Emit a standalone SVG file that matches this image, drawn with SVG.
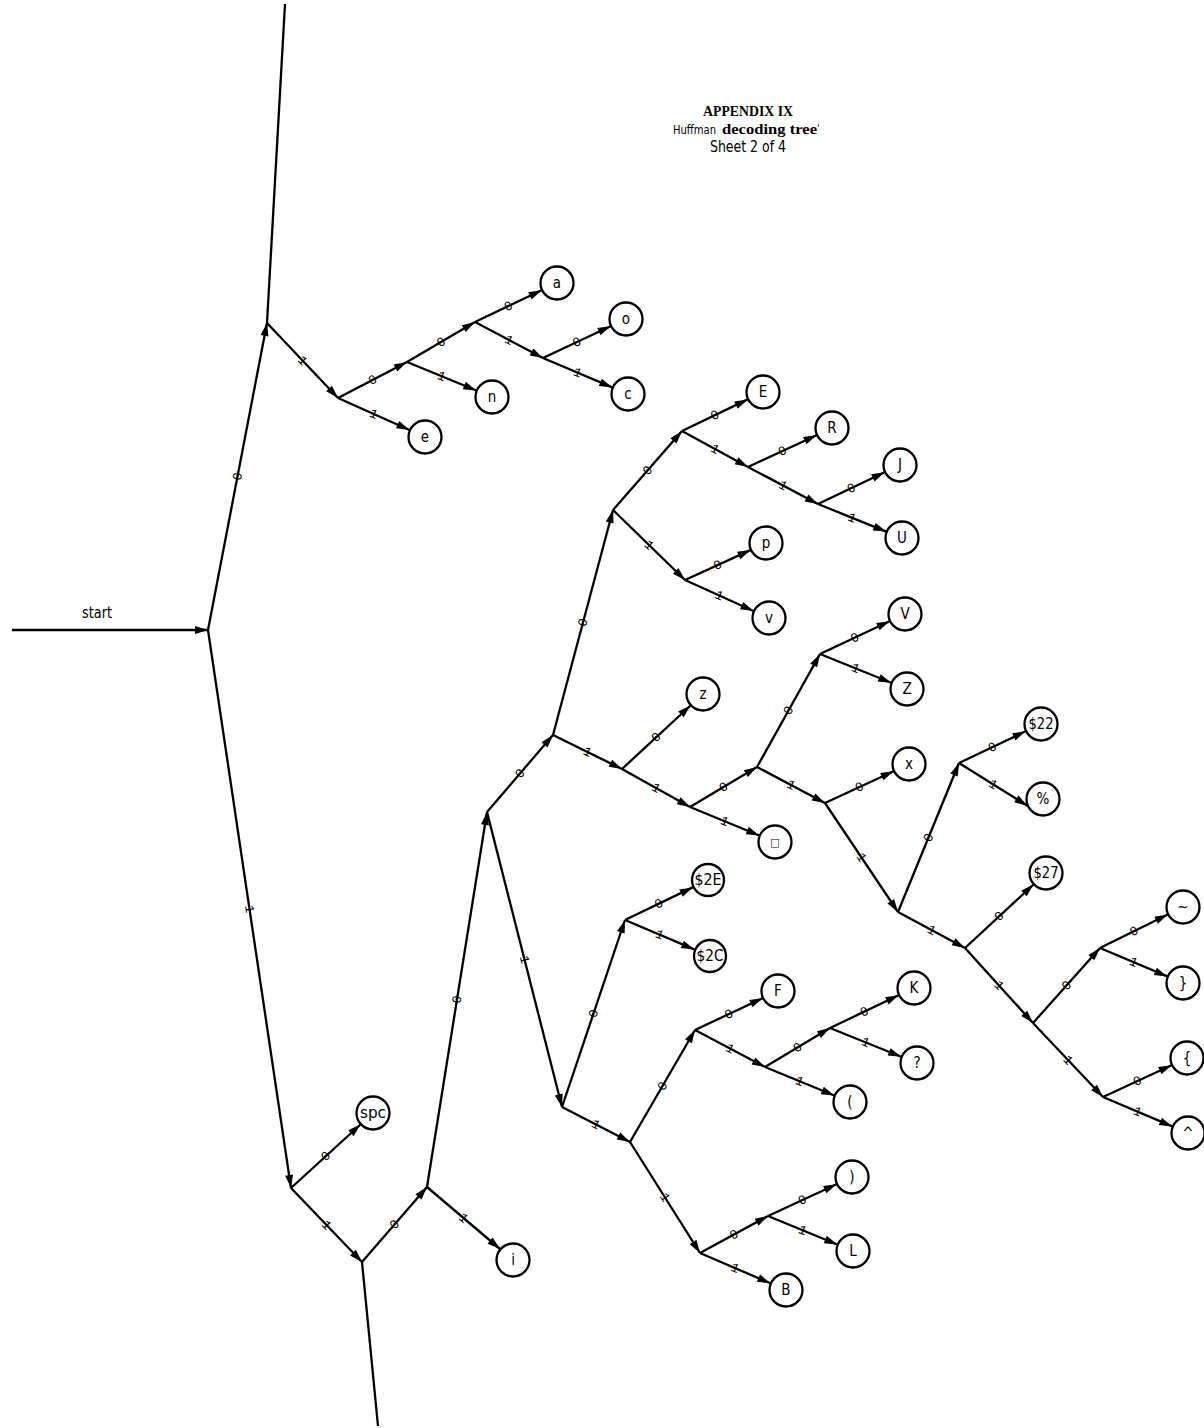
<svg xmlns="http://www.w3.org/2000/svg" xmlns:xlink="http://www.w3.org/1999/xlink" width="1204" height="1428" viewBox="0 0 1204 1428">
<style>
.e{fill:none;stroke:#000;stroke-width:2.3;marker-end:url(#ah)}
.p{fill:none;stroke:#000;stroke-width:2.3}
.n circle{fill:#fff;stroke:#000;stroke-width:2.3}
.n text{font-family:"DejaVu Sans Condensed","Liberation Sans Narrow","Liberation Sans",sans-serif;font-size:15px;text-anchor:middle;dominant-baseline:central;fill:#000}
.l{font-family:"Liberation Mono",monospace;font-size:13px;text-anchor:middle;dominant-baseline:central;fill:#000}
.t{font-family:"DejaVu Sans Condensed","Liberation Sans Narrow","Liberation Sans",sans-serif;fill:#000}
.tb{font-family:"Liberation Serif",serif;font-weight:bold;fill:#000}
</style>
<defs>
<marker id="ah" markerUnits="userSpaceOnUse" viewBox="-14 -5 15 10" refX="0" refY="0" markerWidth="15" markerHeight="10" orient="auto">
<path d="M-13,-4 L0,0 L-13,4 z" fill="#000"/>
</marker>
</defs>
<g id="title">
<text class="tb" x="748" y="116" text-anchor="middle" font-size="14" textLength="90" lengthAdjust="spacingAndGlyphs">APPENDIX  IX</text>
<text x="673" y="134"><tspan class="t" font-size="12.5" textLength="43" lengthAdjust="spacingAndGlyphs">Huffman</tspan><tspan class="tb" font-size="14" dx="6" textLength="95" lengthAdjust="spacingAndGlyphs">decoding tree</tspan><tspan class="t" font-size="10" dy="-2">'</tspan></text>
<text class="t" x="748" y="152" text-anchor="middle" font-size="15" textLength="76" lengthAdjust="spacingAndGlyphs">Sheet 2 of 4</text>
</g>
<g id="connectors">
<path class="p" d="M285 4 L267 323"/>
<path class="p" d="M362 1262 L378 1426"/>
<path id="start" class="e" d="M12 630 L208 630"/>
<path id="e01" class="e" d="M208 630 L267 323"/>
<path id="e02" class="e" d="M208 630 L291 1188"/>
<path id="e03" class="e" d="M267 323 L338 398"/>
<path id="e04" class="e" d="M338 398 L407 362"/>
<path id="e05" class="e" d="M407 362 L475 322"/>
<path id="e06" class="e" d="M475 322 L543 358"/>
<path id="e07" class="e" d="M291 1188 L362 1262"/>
<path id="e08" class="e" d="M362 1262 L427 1187"/>
<path id="e09" class="e" d="M427 1187 L487 812"/>
<path id="e10" class="e" d="M487 812 L553 735"/>
<path id="e11" class="e" d="M487 812 L562 1107"/>
<path id="e12" class="e" d="M553 735 L613 510"/>
<path id="e13" class="e" d="M553 735 L622 769"/>
<path id="e14" class="e" d="M613 510 L682 431"/>
<path id="e15" class="e" d="M613 510 L685 580"/>
<path id="e16" class="e" d="M682 431 L748 467"/>
<path id="e17" class="e" d="M748 467 L818 504"/>
<path id="e18" class="e" d="M622 769 L690 807"/>
<path id="e19" class="e" d="M690 807 L757 767"/>
<path id="e20" class="e" d="M757 767 L820 654"/>
<path id="e21" class="e" d="M757 767 L825 803"/>
<path id="e22" class="e" d="M825 803 L898 912"/>
<path id="e23" class="e" d="M898 912 L959 763"/>
<path id="e24" class="e" d="M898 912 L965 948"/>
<path id="e25" class="e" d="M965 948 L1033 1023"/>
<path id="e26" class="e" d="M1033 1023 L1100 948"/>
<path id="e27" class="e" d="M1033 1023 L1103 1097"/>
<path id="e28" class="e" d="M562 1107 L625 920"/>
<path id="e29" class="e" d="M562 1107 L630 1142"/>
<path id="e30" class="e" d="M630 1142 L695 1030"/>
<path id="e31" class="e" d="M630 1142 L700 1253"/>
<path id="e32" class="e" d="M695 1030 L765 1067"/>
<path id="e33" class="e" d="M765 1067 L830 1028"/>
<path id="e34" class="e" d="M700 1253 L768 1216"/>
<path id="f01" class="e" d="M475 322 L541.6 290.3"/>
<path id="f02" class="e" d="M543 358 L610.6 326.2"/>
<path id="f03" class="e" d="M543 358 L612.3 387.4"/>
<path id="f04" class="e" d="M407 362 L476.3 390.5"/>
<path id="f05" class="e" d="M338 398 L409.5 430"/>
<path id="f06" class="e" d="M682 431 L747.7 399.4"/>
<path id="f07" class="e" d="M748 467 L816.6 435.2"/>
<path id="f08" class="e" d="M818 504 L884.6 472.3"/>
<path id="f09" class="e" d="M818 504 L886.2 531.6"/>
<path id="f10" class="e" d="M685 580 L750.5 550.1"/>
<path id="f11" class="e" d="M685 580 L753.5 611"/>
<path id="f12" class="e" d="M622 769 L690.5 705.5"/>
<path id="f13" class="e" d="M690 807 L759.3 835.5"/>
<path id="f14" class="e" d="M820 654 L889.6 621.2"/>
<path id="f15" class="e" d="M820 654 L891.2 682.7"/>
<path id="f16" class="e" d="M825 803 L893.6 771.2"/>
<path id="f17" class="e" d="M959 763 L1025.6 731.3"/>
<path id="f18" class="e" d="M959 763 L1027.4 805.7"/>
<path id="f19" class="e" d="M965 948 L1033.5 884.5"/>
<path id="f20" class="e" d="M1100 948 L1167.8 914.5"/>
<path id="f21" class="e" d="M1100 948 L1167.3 976.4"/>
<path id="f22" class="e" d="M1103 1097 L1171.6 1065.2"/>
<path id="f23" class="e" d="M1103 1097 L1172.3 1126.4"/>
<path id="f24" class="e" d="M625 920 L692.7 887.4"/>
<path id="f25" class="e" d="M625 920 L694.3 949.4"/>
<path id="f26" class="e" d="M695 1030 L762.6 998.2"/>
<path id="f27" class="e" d="M830 1028 L898.6 995.3"/>
<path id="f28" class="e" d="M830 1028 L901.2 1056.7"/>
<path id="f29" class="e" d="M765 1067 L834.3 1095.5"/>
<path id="f30" class="e" d="M768 1216 L836.6 1184.2"/>
<path id="f31" class="e" d="M768 1216 L837.3 1244.5"/>
<path id="f32" class="e" d="M700 1253 L770.4 1283.3"/>
<path id="f33" class="e" d="M427 1187 L500 1249"/>
<path id="f34" class="e" d="M291 1188 L360.5 1124.5"/>
<text class="t" x="97" y="618" text-anchor="middle" font-size="15" textLength="30" lengthAdjust="spacingAndGlyphs">start</text>
<text class="l"><textPath href="#e01" startOffset="50%">0</textPath></text>
<text class="l"><textPath href="#e02" startOffset="50%">1</textPath></text>
<text class="l"><textPath href="#e03" startOffset="50%">1</textPath></text>
<text class="l"><textPath href="#e04" startOffset="50%">0</textPath></text>
<text class="l"><textPath href="#e05" startOffset="50%">0</textPath></text>
<text class="l"><textPath href="#e06" startOffset="50%">1</textPath></text>
<text class="l"><textPath href="#e07" startOffset="50%">1</textPath></text>
<text class="l"><textPath href="#e08" startOffset="50%">0</textPath></text>
<text class="l"><textPath href="#e09" startOffset="50%">0</textPath></text>
<text class="l"><textPath href="#e10" startOffset="50%">0</textPath></text>
<text class="l"><textPath href="#e11" startOffset="50%">1</textPath></text>
<text class="l"><textPath href="#e12" startOffset="50%">0</textPath></text>
<text class="l"><textPath href="#e13" startOffset="50%">1</textPath></text>
<text class="l"><textPath href="#e14" startOffset="50%">0</textPath></text>
<text class="l"><textPath href="#e15" startOffset="50%">1</textPath></text>
<text class="l"><textPath href="#e16" startOffset="50%">1</textPath></text>
<text class="l"><textPath href="#e17" startOffset="50%">1</textPath></text>
<text class="l"><textPath href="#e18" startOffset="50%">1</textPath></text>
<text class="l"><textPath href="#e19" startOffset="50%">0</textPath></text>
<text class="l"><textPath href="#e20" startOffset="50%">0</textPath></text>
<text class="l"><textPath href="#e21" startOffset="50%">1</textPath></text>
<text class="l"><textPath href="#e22" startOffset="50%">1</textPath></text>
<text class="l"><textPath href="#e23" startOffset="50%">0</textPath></text>
<text class="l"><textPath href="#e24" startOffset="50%">1</textPath></text>
<text class="l"><textPath href="#e25" startOffset="50%">1</textPath></text>
<text class="l"><textPath href="#e26" startOffset="50%">0</textPath></text>
<text class="l"><textPath href="#e27" startOffset="50%">1</textPath></text>
<text class="l"><textPath href="#e28" startOffset="50%">0</textPath></text>
<text class="l"><textPath href="#e29" startOffset="50%">1</textPath></text>
<text class="l"><textPath href="#e30" startOffset="50%">0</textPath></text>
<text class="l"><textPath href="#e31" startOffset="50%">1</textPath></text>
<text class="l"><textPath href="#e32" startOffset="50%">1</textPath></text>
<text class="l"><textPath href="#e33" startOffset="50%">0</textPath></text>
<text class="l"><textPath href="#e34" startOffset="50%">0</textPath></text>
<text class="l"><textPath href="#f01" startOffset="50%">0</textPath></text>
<text class="l"><textPath href="#f02" startOffset="50%">0</textPath></text>
<text class="l"><textPath href="#f03" startOffset="50%">1</textPath></text>
<text class="l"><textPath href="#f04" startOffset="50%">1</textPath></text>
<text class="l"><textPath href="#f05" startOffset="50%">1</textPath></text>
<text class="l"><textPath href="#f06" startOffset="50%">0</textPath></text>
<text class="l"><textPath href="#f07" startOffset="50%">0</textPath></text>
<text class="l"><textPath href="#f08" startOffset="50%">0</textPath></text>
<text class="l"><textPath href="#f09" startOffset="50%">1</textPath></text>
<text class="l"><textPath href="#f10" startOffset="50%">0</textPath></text>
<text class="l"><textPath href="#f11" startOffset="50%">1</textPath></text>
<text class="l"><textPath href="#f12" startOffset="50%">0</textPath></text>
<text class="l"><textPath href="#f13" startOffset="50%">1</textPath></text>
<text class="l"><textPath href="#f14" startOffset="50%">0</textPath></text>
<text class="l"><textPath href="#f15" startOffset="50%">1</textPath></text>
<text class="l"><textPath href="#f16" startOffset="50%">0</textPath></text>
<text class="l"><textPath href="#f17" startOffset="50%">0</textPath></text>
<text class="l"><textPath href="#f18" startOffset="50%">1</textPath></text>
<text class="l"><textPath href="#f19" startOffset="50%">0</textPath></text>
<text class="l"><textPath href="#f20" startOffset="50%">0</textPath></text>
<text class="l"><textPath href="#f21" startOffset="50%">1</textPath></text>
<text class="l"><textPath href="#f22" startOffset="50%">0</textPath></text>
<text class="l"><textPath href="#f23" startOffset="50%">1</textPath></text>
<text class="l"><textPath href="#f24" startOffset="50%">0</textPath></text>
<text class="l"><textPath href="#f25" startOffset="50%">1</textPath></text>
<text class="l"><textPath href="#f26" startOffset="50%">0</textPath></text>
<text class="l"><textPath href="#f27" startOffset="50%">0</textPath></text>
<text class="l"><textPath href="#f28" startOffset="50%">1</textPath></text>
<text class="l"><textPath href="#f29" startOffset="50%">1</textPath></text>
<text class="l"><textPath href="#f30" startOffset="50%">0</textPath></text>
<text class="l"><textPath href="#f31" startOffset="50%">1</textPath></text>
<text class="l"><textPath href="#f32" startOffset="50%">1</textPath></text>
<text class="l"><textPath href="#f33" startOffset="50%">1</textPath></text>
<text class="l"><textPath href="#f34" startOffset="50%">0</textPath></text>
</g>
<g id="node-a" class="n"><circle cx="557" cy="283" r="16.5"/><text x="557" y="283">a</text></g>
<g id="node-o" class="n"><circle cx="626" cy="319" r="16.5"/><text x="626" y="319">o</text></g>
<g id="node-c" class="n"><circle cx="628" cy="394" r="16.5"/><text x="628" y="394">c</text></g>
<g id="node-n" class="n"><circle cx="492" cy="397" r="16.5"/><text x="492" y="397">n</text></g>
<g id="node-e" class="n"><circle cx="425" cy="437" r="16.5"/><text x="425" y="437">e</text></g>
<g id="node-E" class="n"><circle cx="763" cy="392" r="16.5"/><text x="763" y="392">E</text></g>
<g id="node-R" class="n"><circle cx="832" cy="428" r="16.5"/><text x="832" y="428">R</text></g>
<g id="node-J" class="n"><circle cx="900" cy="465" r="16.5"/><text x="900" y="465">J</text></g>
<g id="node-U" class="n"><circle cx="902" cy="538" r="16.5"/><text x="902" y="538">U</text></g>
<g id="node-p" class="n"><circle cx="766" cy="543" r="16.5"/><text x="766" y="543">p</text></g>
<g id="node-v" class="n"><circle cx="769" cy="618" r="16.5"/><text x="769" y="618">v</text></g>
<g id="node-z" class="n"><circle cx="703" cy="694" r="16.5"/><text x="703" y="694">z</text></g>
<g id="node-sq" class="n"><circle cx="775" cy="842" r="16.5"/><text x="775" y="842" style="font-size:11px">□</text></g>
<g id="node-V" class="n"><circle cx="905" cy="614" r="16.5"/><text x="905" y="614">V</text></g>
<g id="node-Z" class="n"><circle cx="907" cy="689" r="16.5"/><text x="907" y="689">Z</text></g>
<g id="node-x" class="n"><circle cx="909" cy="764" r="16.5"/><text x="909" y="764">x</text></g>
<g id="node-22" class="n"><circle cx="1041" cy="724" r="16.5"/><text x="1041" y="724" textLength="25" lengthAdjust="spacingAndGlyphs">$22</text></g>
<g id="node-pct" class="n"><circle cx="1043" cy="799" r="16.5"/><text x="1043" y="799">%</text></g>
<g id="node-27" class="n"><circle cx="1046" cy="873" r="16.5"/><text x="1046" y="873" textLength="25" lengthAdjust="spacingAndGlyphs">$27</text></g>
<g id="node-tilde" class="n"><circle cx="1183" cy="907" r="16.5"/><text x="1183" y="907">~</text></g>
<g id="node-rbrace" class="n"><circle cx="1183" cy="983" r="16.5"/><text x="1183" y="983">}</text></g>
<g id="node-lbrace" class="n"><circle cx="1187" cy="1058" r="16.5"/><text x="1187" y="1058">{</text></g>
<g id="node-caret" class="n"><circle cx="1188" cy="1133" r="16.5"/><text x="1188" y="1133">^</text></g>
<g id="node-2E" class="n"><circle cx="708" cy="880" r="16"/><text x="708" y="880" textLength="27" lengthAdjust="spacingAndGlyphs">$2E</text></g>
<g id="node-2C" class="n"><circle cx="710" cy="956" r="16"/><text x="710" y="956" textLength="27" lengthAdjust="spacingAndGlyphs">$2C</text></g>
<g id="node-F" class="n"><circle cx="778" cy="991" r="16.5"/><text x="778" y="991">F</text></g>
<g id="node-K" class="n"><circle cx="914" cy="988" r="16.5"/><text x="914" y="988">K</text></g>
<g id="node-q" class="n"><circle cx="917" cy="1063" r="16.5"/><text x="917" y="1063">?</text></g>
<g id="node-lpar" class="n"><circle cx="850" cy="1102" r="16.5"/><text x="850" y="1102">(</text></g>
<g id="node-rpar" class="n"><circle cx="852" cy="1177" r="16.5"/><text x="852" y="1177">)</text></g>
<g id="node-L" class="n"><circle cx="853" cy="1251" r="16.5"/><text x="853" y="1251">L</text></g>
<g id="node-B" class="n"><circle cx="786" cy="1290" r="16.5"/><text x="786" y="1290">B</text></g>
<g id="node-i" class="n"><circle cx="513" cy="1260" r="16.5"/><text x="513" y="1260">i</text></g>
<g id="node-spc" class="n"><circle cx="373" cy="1113" r="16.5"/><text x="373" y="1113" textLength="26" lengthAdjust="spacingAndGlyphs">spc</text></g>
</svg>
